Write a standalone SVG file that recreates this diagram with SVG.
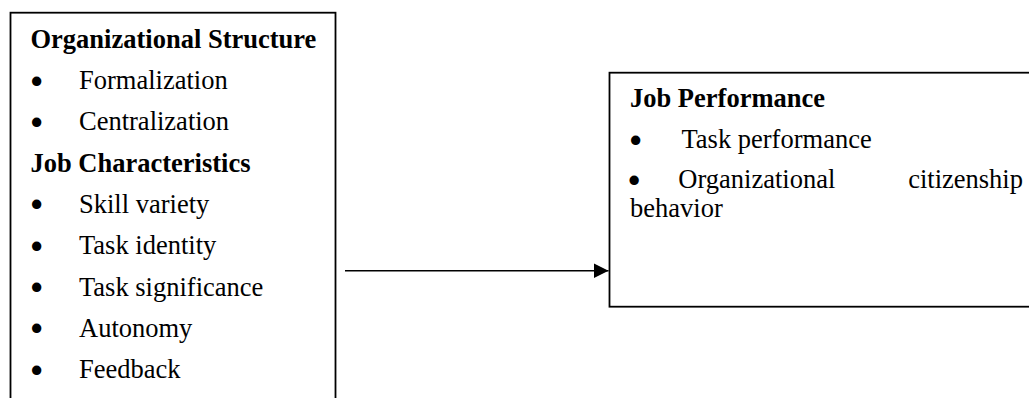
<svg xmlns="http://www.w3.org/2000/svg" width="1029" height="398" viewBox="0 0 1029 398">
  <style>
    .box { fill: #ffffff; stroke: #000000; stroke-width: 1.8; }
    .h { font-family: "Liberation Serif", "Times New Roman", serif; font-size: 26.5px; font-weight: bold; fill: #000; }
    .t { font-family: "Liberation Serif", "Times New Roman", serif; font-size: 26.5px; fill: #000; }
    .b { font-family: "Liberation Serif", "Times New Roman", serif; font-size: 26.5px; fill: #000; stroke: #000; stroke-width: 3; stroke-linejoin: round; }
    .conn { stroke: #000; stroke-width: 1.6; fill: none; }
  </style>
  <defs>
    <marker id="arrow" markerUnits="userSpaceOnUse" markerWidth="16" markerHeight="16" refX="15" refY="7.5" orient="auto">
      <path d="M0,0 L15,7.5 L0,15 Z" fill="#000"/>
    </marker>
  </defs>
  <rect width="1029" height="398" fill="#ffffff"/>

  <g id="node-antecedents">
    <rect class="box" x="10.5" y="12.7" width="325" height="420"/>
    <text class="h" x="30.5" y="47.7">Organizational Structure</text>
    <text class="b" x="32" y="90.5">•</text>
    <text class="t" x="79" y="89">Formalization</text>
    <text class="b" x="32" y="131.8">•</text>
    <text class="t" x="79" y="130.3">Centralization</text>
    <text class="h" x="30.5" y="171.6">Job Characteristics</text>
    <text class="b" x="32" y="214.4">•</text>
    <text class="t" x="79" y="212.9">Skill variety</text>
    <text class="b" x="32" y="255.7">•</text>
    <text class="t" x="79" y="254.2">Task identity</text>
    <text class="b" x="32" y="297">•</text>
    <text class="t" x="79" y="295.5">Task significance</text>
    <text class="b" x="32" y="338.3">•</text>
    <text class="t" x="79" y="336.8">Autonomy</text>
    <text class="b" x="32" y="379.6">•</text>
    <text class="t" x="79" y="378.1">Feedback</text>
  </g>

  <g id="node-job-performance">
    <rect class="box" x="609.5" y="72.7" width="440" height="234"/>
    <text class="h" x="630" y="106.5">Job Performance</text>
    <text class="b" x="631" y="149.8">•</text>
    <text class="t" x="681.5" y="148.3">Task performance</text>
    <text class="b" x="629.5" y="189.8">•</text>
    <text class="t" x="678.3" y="188.3">Organizational</text>
    <text class="t" x="1023" y="188.3" text-anchor="end">citizenship</text>
    <text class="t" x="630" y="216.7">behavior</text>
  </g>

  <g id="connectors">
    <line class="conn" x1="345" y1="270.7" x2="608.5" y2="270.7" marker-end="url(#arrow)"/>
  </g>
</svg>
